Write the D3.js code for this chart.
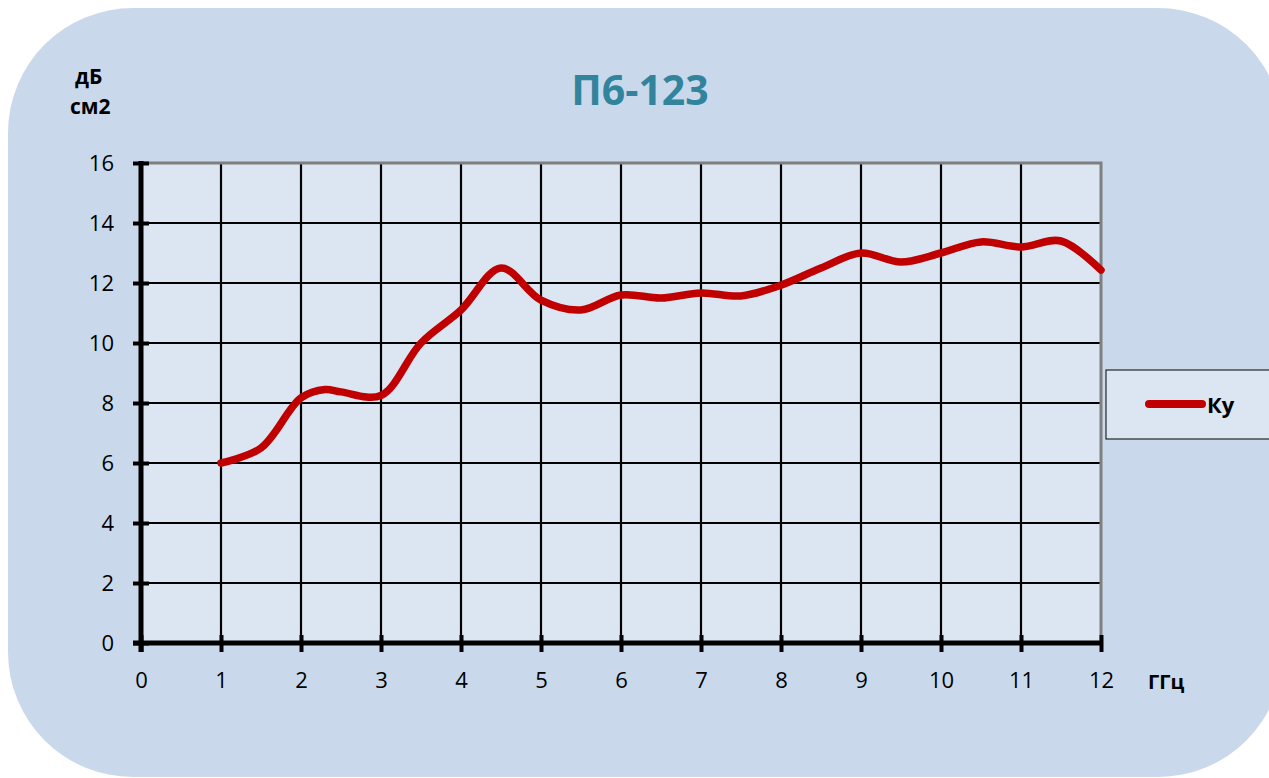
<!DOCTYPE html>
<html>
<head>
<meta charset="utf-8">
<script src="https://cdn.jsdelivr.net/npm/d3@7"></script>
<style>
  html, body { margin: 0; padding: 0; background: #ffffff; }
  svg { display: block; }
</style>
</head>
<body>
<svg id="chart" width="1269" height="778"></svg>
<script>
// ---- data ----
const title = "П6-123";
const seriesName = "Ку";
const yUnitLines = ["дБ", "см2"];
const xUnit = "ГГц";
const freqGHz = [1, 1.5, 2, 2.3, 2.5, 3, 3.5, 4, 4.5, 5, 5.5, 6, 6.5, 7, 7.5, 8, 8.5, 9, 9.5, 10, 10.5, 11, 11.5, 12];
const gainDb  = [6.0, 6.5, 8.17, 8.45, 8.37, 8.25, 10.0, 11.1, 12.5, 11.43, 11.1, 11.6, 11.5, 11.67, 11.57, 11.93, 12.5, 13.0, 12.7, 13.0, 13.37, 13.2, 13.4, 12.43];
const xTicks = [0, 1, 2, 3, 4, 5, 6, 7, 8, 9, 10, 11, 12];
const yTicks = [0, 2, 4, 6, 8, 10, 12, 14, 16];

// ---- layout ----
const svg = d3.select("#chart");
const font = "'Open Sans', 'Noto Sans', sans-serif";
const plot = { left: 141, right: 1101, top: 163, bottom: 643 };

const x = d3.scaleLinear().domain([0, 12]).range([plot.left, plot.right]);
const y = d3.scaleLinear().domain([0, 16]).range([plot.bottom, plot.top]);

// background rounded panel
svg.append("rect")
  .attr("x", 8).attr("y", 8).attr("width", 1275).attr("height", 769)
  .attr("rx", 125).attr("ry", 125)
  .attr("fill", "#c9d9eb");

// plot area
svg.append("rect")
  .attr("x", plot.left).attr("y", plot.top)
  .attr("width", plot.right - plot.left).attr("height", plot.bottom - plot.top)
  .attr("fill", "#dce6f2");

// gridlines
const grid = svg.append("g");
grid.selectAll("line.h").data(yTicks.filter(d => d > 0 && d < 16)).join("line")
  .attr("x1", plot.left).attr("x2", plot.right)
  .attr("y1", d => y(d)).attr("y2", d => y(d))
  .attr("stroke", "#000").attr("stroke-width", 2.2);
grid.selectAll("line.v").data(xTicks.filter(d => d > 0 && d < 12)).join("line")
  .attr("x1", d => x(d)).attr("x2", d => x(d))
  .attr("y1", plot.top).attr("y2", plot.bottom)
  .attr("stroke", "#000").attr("stroke-width", 2.2);

// top & right gray borders
svg.append("path")
  .attr("d", `M${plot.left},${y(16)}H${x(12)}V${plot.bottom}`)
  .attr("fill", "none").attr("stroke", "#7f7f7f").attr("stroke-width", 3);

// y axis
const yAxis = d3.axisLeft(y).tickValues(yTicks).tickSize(0).tickPadding(0)
  .tickFormat(d3.format("d"));
const gy = svg.append("g").attr("transform", `translate(${plot.left},0)`).call(yAxis);
gy.select(".domain").remove();
gy.selectAll(".tick text")
  .attr("x", -27).attr("dy", "0.36em")
  .attr("font-family", font).attr("font-size", 22).attr("fill", "#000")
  .attr("text-anchor", "end");
gy.selectAll(".tick").append("line")
  .attr("x1", -8).attr("x2", 8).attr("stroke", "#000").attr("stroke-width", 4);

// x axis
const xAxis = d3.axisBottom(x).tickValues(xTicks).tickSize(0).tickPadding(0)
  .tickFormat(d3.format("d"));
const gx = svg.append("g").attr("transform", `translate(0,${plot.bottom})`).call(xAxis);
gx.select(".domain").remove();
gx.selectAll(".tick text")
  .attr("y", 45).attr("dy", "0")
  .attr("font-family", font).attr("font-size", 22).attr("fill", "#000");
gx.selectAll(".tick").append("line")
  .attr("y1", -8).attr("y2", 9).attr("stroke", "#000").attr("stroke-width", 4);

// thick axis lines
svg.append("line")
  .attr("x1", plot.left).attr("x2", plot.left)
  .attr("y1", plot.top - 2).attr("y2", plot.bottom + 9)
  .attr("stroke", "#000").attr("stroke-width", 5);
svg.append("line")
  .attr("x1", plot.left - 8).attr("x2", plot.right + 2)
  .attr("y1", plot.bottom).attr("y2", plot.bottom)
  .attr("stroke", "#000").attr("stroke-width", 5);

// series line
const line = d3.line()
  .x((d, i) => x(freqGHz[i]))
  .y(d => y(d))
  .curve(d3.curveCatmullRom.alpha(0.5));
svg.append("path")
  .datum(gainDb)
  .attr("d", line)
  .attr("fill", "none").attr("stroke", "#c00000")
  .attr("stroke-width", 7.5).attr("stroke-linecap", "round").attr("stroke-linejoin", "round");

// title
svg.append("text")
  .attr("x", 640).attr("y", 105)
  .attr("text-anchor", "middle")
  .attr("font-family", font).attr("font-weight", "bold").attr("font-size", 41)
  .attr("fill", "#31849b")
  .text(title);

// y unit label
svg.append("text").attr("x", 75).attr("y", 84)
  .attr("font-family", font).attr("font-weight", "bold").attr("font-size", 21)
  .attr("fill", "#000").text(yUnitLines[0]);
svg.append("text").attr("x", 70).attr("y", 114)
  .attr("font-family", font).attr("font-weight", "bold").attr("font-size", 21)
  .attr("fill", "#000").text(yUnitLines[1]);

// x unit label
svg.append("text").attr("x", 1148).attr("y", 689)
  .attr("font-family", font).attr("font-weight", "bold").attr("font-size", 20)
  .attr("fill", "#000").text(xUnit);

// legend
const lg = svg.append("g");
lg.append("rect")
  .attr("x", 1106).attr("y", 370).attr("width", 180).attr("height", 69)
  .attr("fill", "#dce6f2").attr("stroke", "#000").attr("stroke-width", 1);
lg.append("line")
  .attr("x1", 1149).attr("x2", 1202).attr("y1", 404).attr("y2", 404)
  .attr("stroke", "#c00000").attr("stroke-width", 8).attr("stroke-linecap", "round");
lg.append("text")
  .attr("x", 1207).attr("y", 413)
  .attr("font-family", font).attr("font-weight", "bold").attr("font-size", 22)
  .attr("fill", "#000").text(seriesName);
</script>
</body>
</html>
